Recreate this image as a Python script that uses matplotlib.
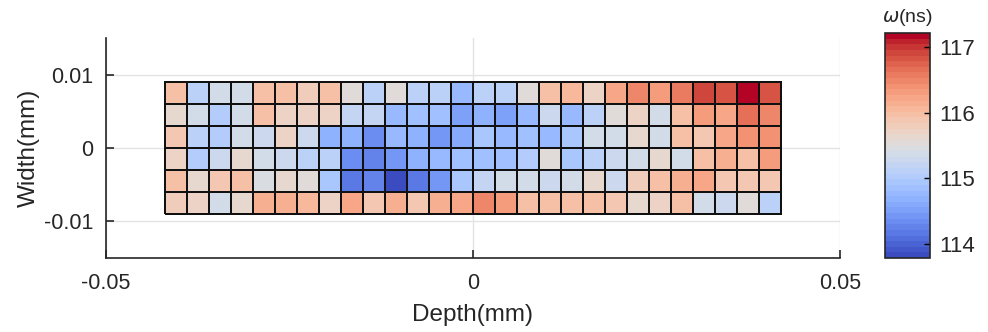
import matplotlib
matplotlib.use('Agg')
import matplotlib.pyplot as plt
import numpy as np

plt.rcParams['font.family'] = ['Liberation Sans', 'DejaVu Sans']

# ── Cell grid (mm) ─────────────────────────────────────────────────────────
X_EDGES = np.linspace(-0.042, 0.042, 29)   # 28 columns
Y_EDGES = np.linspace(-0.009, 0.009, 7)    # 6 rows

# omega (ns), rows listed top -> bottom, 28 columns left -> right
ROW1 = [116.00, 115.10, 115.35, 115.35, 116.00, 116.00, 115.80, 116.00, 115.50, 115.15,
        115.50, 115.15, 115.15, 114.80, 115.10, 115.15, 115.50, 116.00, 116.05, 115.75,
        116.20, 116.45, 116.35, 116.60, 116.95, 116.80, 117.20, 116.80]
ROW2 = [115.65, 115.35, 115.05, 115.35, 115.95, 115.70, 115.70, 115.75, 115.20, 115.20,
        114.80, 114.90, 114.90, 114.55, 114.70, 114.50, 114.75, 115.25, 114.78, 115.15,
        115.50, 115.70, 115.35, 116.00, 116.35, 116.25, 116.65, 116.45]
ROW3 = [115.85, 115.15, 115.05, 115.35, 115.25, 115.75, 115.25, 114.70, 114.65, 114.35,
        114.80, 114.70, 114.40, 114.60, 114.95, 114.75, 114.90, 114.80, 114.95, 115.35,
        115.35, 115.65, 115.35, 115.95, 115.90, 116.20, 116.40, 116.40]
ROW4 = [115.70, 115.05, 115.25, 115.65, 115.35, 115.25, 115.15, 115.10, 114.35, 114.30,
        114.45, 114.65, 114.75, 114.85, 114.85, 114.90, 115.00, 115.50, 114.95, 115.15,
        115.25, 115.35, 115.65, 115.35, 115.95, 116.15, 115.95, 116.30]
ROW5 = [115.95, 115.65, 115.90, 116.00, 115.45, 115.60, 115.50, 114.95, 114.15, 114.25,
        113.85, 114.20, 114.45, 114.95, 115.20, 115.40, 115.35, 115.25, 115.35, 115.65,
        115.25, 115.80, 116.00, 116.10, 116.20, 115.85, 115.85, 115.90]
ROW6 = [115.80, 115.75, 115.35, 115.65, 116.15, 116.15, 116.05, 115.75, 116.25, 115.85,
        116.10, 115.85, 116.10, 116.25, 116.45, 116.35, 116.00, 116.00, 115.95, 116.00,
        115.90, 115.65, 115.70, 115.95, 115.35, 115.25, 115.50, 115.10]

X_TICKS = [-0.05, 0, 0.05]
Y_TICKS = [-0.01, 0, 0.01]
CB_TICKS = [114, 115, 116, 117]
VMIN, VMAX = 113.79, 117.21

omega = np.array([ROW6, ROW5, ROW4, ROW3, ROW2, ROW1])  # bottom -> top for pcolormesh

fig = plt.figure(figsize=(9.88, 3.32), dpi=100)
ax = fig.add_axes([106 / 988, 1 - 258 / 332, 734 / 988, 220 / 332])
cax = fig.add_axes([885 / 988, 1 - 258 / 332, 45 / 988, 225 / 332])

ax.grid(True, color='#e3e3e3', linewidth=1.0, zorder=0)
ax.set_axisbelow(True)
cmap = plt.get_cmap('coolwarm', 40)
mesh = ax.pcolormesh(X_EDGES, Y_EDGES, omega, cmap=cmap, vmin=VMIN, vmax=VMAX,
                     edgecolors='#111111', linewidth=1.2, zorder=2)

ax.set_xlim(-0.05, 0.05)
ax.set_ylim(-0.015, 0.015)
ax.set_xticks(X_TICKS)
ax.set_xticklabels(['-0.05', '0', '0.05'])
ax.set_yticks(Y_TICKS)
ax.set_yticklabels(['-0.01', '0', '0.01'])
for s in ['top', 'right']:
    ax.spines[s].set_visible(False)
for s in ['left', 'bottom']:
    ax.spines[s].set_color('#262626')
    ax.spines[s].set_linewidth(1.2)
ax.tick_params(direction='in', length=6, width=1.2, color='#262626',
               labelsize=15.5, labelcolor='#262626')
ax.tick_params(axis='x', pad=11)
ax.tick_params(axis='y', pad=9)
ax.set_xlabel('Depth(mm)', fontsize=17.5, color='#262626', labelpad=7)
ax.set_ylabel('Width(mm)', fontsize=17.5, color='#262626', labelpad=3)

cb = fig.colorbar(mesh, cax=cax, ticks=CB_TICKS)
cb.outline.set_linewidth(1.2)
cb.outline.set_edgecolor('#262626')
cb.ax.tick_params(direction='in', length=4, width=1.0, labelsize=16,
                  labelcolor='#262626', pad=7)
cax.set_title(r'$\omega$(ns)', fontsize=14, color='#262626', pad=8)

fig.savefig('out.png', dpi=100)
